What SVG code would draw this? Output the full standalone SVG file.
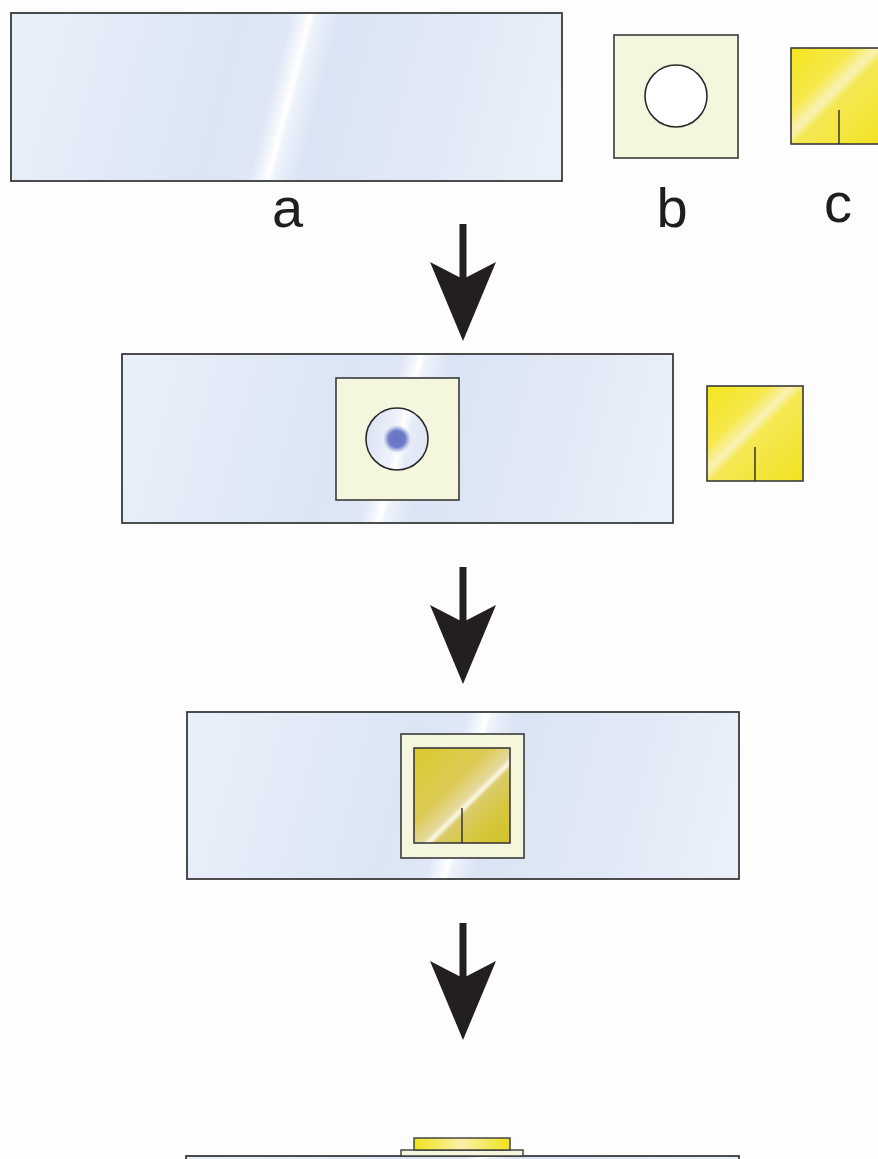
<svg xmlns="http://www.w3.org/2000/svg" width="878" height="1159" viewBox="0 0 878 1159">
  <defs>
    <style>
      .glass { fill: url(#glass); stroke: #3a3a3a; stroke-width: 1.8; }
      .frame { fill: #f4f6de; stroke: #3a3a3a; stroke-width: 1.6; }
      .gold { fill: url(#gold); stroke: #3a3a3a; stroke-width: 1.6; }
      .goldDark { fill: url(#goldDark); stroke: #3a3a3a; stroke-width: 1.6; }
      .slit { stroke: #2a2a2a; stroke-width: 1.4; fill: none; }
      .label { font-family: "Liberation Sans", Arial, sans-serif; font-size: 56px; fill: #1e1e1e; text-anchor: middle; }
      .arrow { fill: #231f20; }
    </style>
    <!-- glass slide: soft blue with a slanted highlight streak -->
    <linearGradient id="glass" x1="0" y1="0" x2="1" y2="0" gradientTransform="translate(0,0.5) skewX(-4.5) translate(0,-0.5)">
      <stop offset="0" stop-color="#e9eff9"/>
      <stop offset="0.12" stop-color="#e5ecf8"/>
      <stop offset="0.38" stop-color="#dbe5f4"/>
      <stop offset="0.47" stop-color="#dfe7f5"/>
      <stop offset="0.495" stop-color="#f4f7fc"/>
      <stop offset="0.505" stop-color="#ffffff"/>
      <stop offset="0.515" stop-color="#eef3fb"/>
      <stop offset="0.56" stop-color="#dae4f4"/>
      <stop offset="0.8" stop-color="#e2e9f6"/>
      <stop offset="1" stop-color="#eaf0f9"/>
    </linearGradient>
    <!-- bright gold cover slip with diagonal glint -->
    <linearGradient id="gold" x1="0" y1="0" x2="1" y2="1">
      <stop offset="0" stop-color="#f5e51e"/>
      <stop offset="0.32" stop-color="#f6e84a"/>
      <stop offset="0.45" stop-color="#f9f2b4"/>
      <stop offset="0.52" stop-color="#f5e853"/>
      <stop offset="1" stop-color="#f2e21f"/>
    </linearGradient>
    <!-- mounted gold slip, darker olive tone -->
    <linearGradient id="goldDark" x1="0" y1="0" x2="1" y2="1">
      <stop offset="0" stop-color="#dbca2c"/>
      <stop offset="0.4" stop-color="#dccb55"/>
      <stop offset="0.54" stop-color="#e6daa0"/>
      <stop offset="0.575" stop-color="#fbf8e4"/>
      <stop offset="0.61" stop-color="#d9cb6a"/>
      <stop offset="0.8" stop-color="#d6c63a"/>
      <stop offset="1" stop-color="#d3c22b"/>
    </linearGradient>
    <!-- well contents -->
    <linearGradient id="well" x1="0" y1="0" x2="1" y2="0" gradientTransform="translate(0,0.5) skewX(-12) translate(0,-0.5)">
      <stop offset="0" stop-color="#dbe3f4"/>
      <stop offset="0.45" stop-color="#eef2fa"/>
      <stop offset="0.55" stop-color="#ffffff"/>
      <stop offset="0.7" stop-color="#e6ecf7"/>
      <stop offset="1" stop-color="#dfe6f5"/>
    </linearGradient>
    <radialGradient id="spot">
      <stop offset="0" stop-color="#6573c4"/>
      <stop offset="0.6" stop-color="#6f7cc8"/>
      <stop offset="1" stop-color="#8e99d4" stop-opacity="0"/>
    </radialGradient>
    <linearGradient id="goldBar" x1="0" y1="0" x2="1" y2="0">
      <stop offset="0" stop-color="#f1e21c"/>
      <stop offset="0.5" stop-color="#f8f1a8"/>
      <stop offset="1" stop-color="#f1e21c"/>
    </linearGradient>
    <path id="downArrow" d="M459.5,224 H466.5 V277.2 L496,262 L463,341 L430,262 L459.5,277.2 Z"/>
  </defs>

  <rect width="878" height="1159" fill="#fdfdfd"/>

  <!-- parts: slide, spacer, cover slip -->
  <g id="slide-a">
    <rect class="glass" x="11" y="13" width="551" height="168"/>
    <text class="label" x="287.5" y="227">a</text>
  </g>
  <g id="spacer-b">
    <rect class="frame" x="614" y="35" width="124" height="123"/>
    <circle cx="676" cy="96" r="31" fill="#ffffff" stroke="#2a2a2a" stroke-width="1.6"/>
    <text class="label" x="672" y="227">b</text>
  </g>
  <g id="cover-c">
    <rect class="gold" x="791" y="48" width="96" height="96"/>
    <line class="slit" x1="839" y1="110" x2="839" y2="144"/>
    <text class="label" x="838" y="222">c</text>
  </g>

  <!-- step 2: spacer on slide with sample, cover slip alongside -->
  <g id="step-2">
    <rect class="glass" x="122" y="354" width="551" height="169"/>
    <rect class="frame" x="336" y="378" width="123" height="122"/>
    <circle cx="397" cy="439" r="31" fill="url(#well)" stroke="#2a2a2a" stroke-width="1.6"/>
    <circle cx="397" cy="439" r="14" fill="url(#spot)"/>
  </g>
  <g id="cover-c-2">
    <rect class="gold" x="707" y="386" width="96" height="95"/>
    <line class="slit" x1="755" y1="447" x2="755" y2="481"/>
  </g>

  <!-- step 3: cover slip placed over the spacer -->
  <g id="step-3">
    <rect class="glass" x="187" y="712" width="552" height="167"/>
    <rect class="frame" x="401" y="734" width="123" height="124"/>
    <rect class="goldDark" x="414" y="748" width="96" height="95"/>
    <line class="slit" x1="462" y1="808" x2="462" y2="843"/>
  </g>

  <!-- step 4: side view of the assembly -->
  <g id="step-4">
    <rect class="glass" x="186" y="1156" width="553" height="20"/>
    <rect x="401" y="1150" width="122" height="6" fill="#f3f5dc" stroke="#3a3a3a" stroke-width="1.4"/>
    <rect x="414" y="1138" width="96" height="12" fill="url(#goldBar)" stroke="#3a3a3a" stroke-width="1.4"/>
  </g>

  <!-- process arrows -->
  <g id="connectors" class="arrow">
    <use href="#downArrow"/>
    <use href="#downArrow" transform="translate(0,343)"/>
    <use href="#downArrow" transform="translate(0,699)"/>
  </g>
</svg>
